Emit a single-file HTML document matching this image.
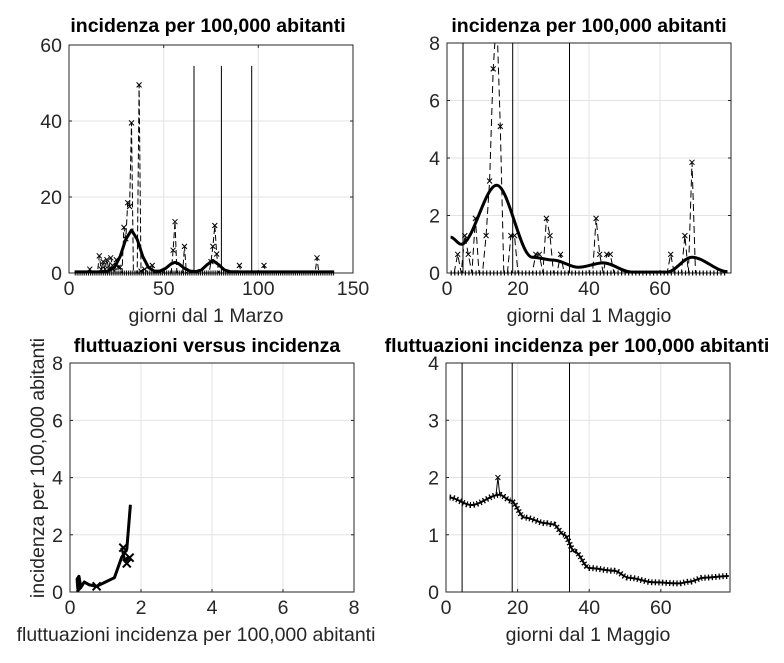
<!DOCTYPE html>
<html><head><meta charset="utf-8"><style>
body{margin:0;background:#fff;}
svg text{font-family:"Liberation Sans",sans-serif;fill:#262626;font-size:19.5px;}
.t{font-weight:bold;fill:#000;font-size:19.5px;}
</style></head><body>
<svg width="784" height="658" xmlns="http://www.w3.org/2000/svg">
<rect width="784" height="658" fill="#fff"/>
<defs>
<path id="x" d="M-2.5,-2.5L2.5,2.5M-2.5,2.5L2.5,-2.5" stroke="#000" stroke-width="1"/>
<path id="X" d="M-4,-4L4,4M-4,4L4,-4" stroke="#000" stroke-width="2"/>
</defs>

<!-- ===== Top-left ===== -->
<g stroke="#e3e3e3">
<line x1="163.7" y1="45" x2="163.7" y2="273"/><line x1="258.3" y1="45" x2="258.3" y2="273"/>
<line x1="69" y1="197" x2="353" y2="197"/><line x1="69" y1="121" x2="353" y2="121"/>
</g>
<rect x="69" y="45" width="284" height="228" fill="none" stroke="#262626"/>
<g stroke="#262626">
<line x1="163.7" y1="273" x2="163.7" y2="270"/><line x1="258.3" y1="273" x2="258.3" y2="270"/>
<line x1="163.7" y1="45" x2="163.7" y2="48"/><line x1="258.3" y1="45" x2="258.3" y2="48"/>
<line x1="69" y1="197" x2="72" y2="197"/><line x1="69" y1="121" x2="72" y2="121"/>
<line x1="353" y1="197" x2="350" y2="197"/><line x1="353" y1="121" x2="350" y2="121"/>
</g>
<text x="69" y="295" text-anchor="middle">0</text><text x="163.7" y="295" text-anchor="middle">50</text><text x="258.3" y="295" text-anchor="middle">100</text><text x="353" y="295" text-anchor="middle">150</text>
<text x="62" y="280" text-anchor="end">0</text><text x="62" y="204" text-anchor="end">20</text><text x="62" y="128" text-anchor="end">40</text><text x="62" y="52" text-anchor="end">60</text>
<line x1="74.7" y1="273" x2="334.1" y2="273" stroke="#000" stroke-width="5" stroke-dasharray="1,0.9"/>
<polyline fill="none" stroke="#000" stroke-width="1" stroke-dasharray="6,3" points="87.9,273 89.8,269.2 91.7,273 97.4,273 99.3,255.9 101.2,269.2 103.1,261.6 105,269.2 106.9,259.7 108.8,269.2 110.7,257.8 112.5,265.4 114.4,273 116.3,259.7 118.2,267.3 120.1,267.3 122,273 123.9,227.4 125.8,238.8 127.7,202.7 129.6,206.5 131.5,122.9 133.4,273 137.2,273 139.1,84.9 141,271.1 144.7,269.2 152.3,265.4 154.2,273 171.2,273 173.1,250.2 175,221.7 176.9,273 182.6,273 184.5,246.4 186.4,273 209.1,273 211,261.6 212.9,246.4 214.8,225.5 216.7,254 218.6,273 237.5,273 239.4,265.4 241.3,273 262.1,273 264,265.4 265.9,273 315.1,273 317,257.8 318.9,273"/>
<g>
<use href="#x" x="89.8" y="269.2"/><use href="#x" x="99.3" y="255.9"/><use href="#x" x="101.2" y="269.2"/><use href="#x" x="103.1" y="261.6"/><use href="#x" x="105" y="269.2"/><use href="#x" x="106.9" y="259.7"/><use href="#x" x="108.8" y="269.2"/><use href="#x" x="110.7" y="257.8"/><use href="#x" x="112.5" y="265.4"/><use href="#x" x="116.3" y="259.7"/><use href="#x" x="118.2" y="267.3"/><use href="#x" x="120.1" y="267.3"/><use href="#x" x="123.9" y="227.4"/><use href="#x" x="125.8" y="238.8"/><use href="#x" x="127.7" y="202.7"/><use href="#x" x="129.6" y="206.5"/><use href="#x" x="131.5" y="122.9"/><use href="#x" x="139.1" y="84.9"/><use href="#x" x="141" y="271.1"/><use href="#x" x="144.7" y="269.2"/><use href="#x" x="152.3" y="265.4"/><use href="#x" x="173.1" y="250.2"/><use href="#x" x="175" y="221.7"/><use href="#x" x="184.5" y="246.4"/><use href="#x" x="211" y="261.6"/><use href="#x" x="212.9" y="246.4"/><use href="#x" x="214.8" y="225.5"/><use href="#x" x="216.7" y="254"/><use href="#x" x="239.4" y="265.4"/><use href="#x" x="264" y="265.4"/><use href="#x" x="317" y="257.8"/>
</g>
<g stroke="#000" stroke-width="1">
<line x1="194" y1="65.9" x2="194" y2="273"/><line x1="221.4" y1="65.9" x2="221.4" y2="273"/><line x1="251.7" y1="65.9" x2="251.7" y2="273"/>
</g>
<polyline fill="none" stroke="#000" stroke-width="3" stroke-linejoin="round" points="74.7,271.9 97.4,271.9 106.9,271.5 114.4,267.5 120.1,256.5 125.8,239.3 131.5,230.1 137.2,239.3 142.8,256.5 148.5,267.5 154.2,271 159.9,271.1 165.6,268.4 171.2,263.8 175,262.4 178.8,263.8 184.5,268.4 190.2,271.1 195.9,271.6 201.5,269.9 207.2,264.6 212.9,260.5 218.6,264.6 224.3,269.9 229.9,271.6 239.4,271.9 334.1,271.9"/>
<text class="t" x="208" y="32" text-anchor="middle">incidenza per 100,000 abitanti</text>
<text x="206" y="322" text-anchor="middle">giorni dal 1 Marzo</text>

<!-- ===== Top-right ===== -->
<g stroke="#e3e3e3">
<line x1="518" y1="43" x2="518" y2="273"/><line x1="589" y1="43" x2="589" y2="273"/><line x1="660" y1="43" x2="660" y2="273"/>
<line x1="447" y1="215.5" x2="731" y2="215.5"/><line x1="447" y1="158" x2="731" y2="158"/><line x1="447" y1="100.5" x2="731" y2="100.5"/>
</g>
<rect x="447" y="43" width="284" height="230" fill="none" stroke="#262626"/>
<g stroke="#262626">
<line x1="518" y1="273" x2="518" y2="270"/><line x1="589" y1="273" x2="589" y2="270"/><line x1="660" y1="273" x2="660" y2="270"/>
<line x1="447" y1="215.5" x2="450" y2="215.5"/><line x1="447" y1="158" x2="450" y2="158"/><line x1="447" y1="100.5" x2="450" y2="100.5"/>
<line x1="731" y1="215.5" x2="728" y2="215.5"/><line x1="731" y1="158" x2="728" y2="158"/><line x1="731" y1="100.5" x2="728" y2="100.5"/>
</g>
<text x="447" y="295" text-anchor="middle">0</text><text x="518" y="295" text-anchor="middle">20</text><text x="589" y="295" text-anchor="middle">40</text><text x="660" y="295" text-anchor="middle">60</text>
<text x="440" y="280" text-anchor="end">0</text><text x="440" y="222.5" text-anchor="end">2</text><text x="440" y="165" text-anchor="end">4</text><text x="440" y="107.5" text-anchor="end">6</text><text x="440" y="50" text-anchor="end">8</text>
<line x1="450.6" y1="273" x2="727.5" y2="273" stroke="#000" stroke-width="5" stroke-dasharray="1.2,2.35"/>
<clipPath id="c2"><rect x="447" y="43" width="284" height="230"/></clipPath>
<polyline clip-path="url(#c2)" fill="none" stroke="#000" stroke-width="1" stroke-dasharray="7,4" points="454.1,273 457.7,254.3 461.2,273 464.8,235.6 468.3,254.3 471.9,273 475.4,218.4 479,273 482.5,273 486.1,235.6 489.6,181 493.2,68.9 496.7,14.3 500.3,126.4 503.8,273 507.4,273 510.9,235.6 514.5,235.6 518,273 532.2,273 535.8,254.3 539.3,254.3 542.9,273 546.4,218.4 550,235.6 553.5,273 557.1,273 560.6,254.3 564.2,273 592.6,273 596.1,218.4 599.7,254.3 603.2,273 606.8,254.3 610.3,254.3 613.9,273 667.1,273 670.7,254.3 674.2,273 681.3,273 684.9,235.6 688.4,273 692,162.3 695.5,273"/>
<g>
<use href="#x" x="457.7" y="254.3"/><use href="#x" x="464.8" y="235.6"/><use href="#x" x="468.3" y="254.3"/><use href="#x" x="475.4" y="218.4"/><use href="#x" x="486.1" y="235.6"/><use href="#x" x="489.6" y="181"/><use href="#x" x="493.2" y="68.9"/><use href="#x" x="500.3" y="126.4"/><use href="#x" x="510.9" y="235.6"/><use href="#x" x="514.5" y="235.6"/><use href="#x" x="535.8" y="254.3"/><use href="#x" x="539.3" y="254.3"/><use href="#x" x="546.4" y="218.4"/><use href="#x" x="550" y="235.6"/><use href="#x" x="560.6" y="254.3"/><use href="#x" x="596.1" y="218.4"/><use href="#x" x="599.7" y="254.3"/><use href="#x" x="606.8" y="254.3"/><use href="#x" x="610.3" y="254.3"/><use href="#x" x="670.7" y="254.3"/><use href="#x" x="684.9" y="235.6"/><use href="#x" x="692" y="162.3"/>
</g>
<g stroke="#000" stroke-width="1">
<line x1="463" y1="43" x2="463" y2="273"/><line x1="512.7" y1="43" x2="512.7" y2="273"/><line x1="569.5" y1="43" x2="569.5" y2="273"/>
</g>
<path fill="none" stroke="#000" stroke-width="3" d="M450.6,237.1 C454.1,237.1 457.7,244.3 461.2,244.3 C473,244.3 484.9,185.3 496.7,185.3 C508.5,185.3 520.4,257.2 532.2,257.2 C539.3,257.2 546.4,260.1 553.5,260.1 C561.8,260.1 570.1,267.3 578.4,267.3 C586.7,267.3 594.9,262.9 603.2,262.9 C612.7,262.9 622.1,272.1 631.6,272.1 L667.1,272.1 C675.4,272.1 683.7,257.2 692,257.2 C703.8,257.2 715.7,271.6 727.5,271.6"/>
<text class="t" x="589" y="32" text-anchor="middle">incidenza per 100,000 abitanti</text>
<text x="589" y="322" text-anchor="middle">giorni dal 1 Maggio</text>

<!-- ===== Bottom-left ===== -->
<g stroke="#e3e3e3">
<line x1="141" y1="363" x2="141" y2="592"/><line x1="212" y1="363" x2="212" y2="592"/><line x1="283" y1="363" x2="283" y2="592"/>
<line x1="70" y1="534.8" x2="354" y2="534.8"/><line x1="70" y1="477.6" x2="354" y2="477.6"/><line x1="70" y1="420.4" x2="354" y2="420.4"/>
</g>
<rect x="70" y="363" width="284" height="229" fill="none" stroke="#262626"/>
<g stroke="#262626">
<line x1="141" y1="592" x2="141" y2="589"/><line x1="212" y1="592" x2="212" y2="589"/><line x1="283" y1="592" x2="283" y2="589"/>
<line x1="70" y1="534.8" x2="73" y2="534.8"/><line x1="70" y1="477.6" x2="73" y2="477.6"/><line x1="70" y1="420.4" x2="73" y2="420.4"/>
<line x1="354" y1="534.8" x2="351" y2="534.8"/><line x1="354" y1="477.6" x2="351" y2="477.6"/><line x1="354" y1="420.4" x2="351" y2="420.4"/>
</g>
<text x="70" y="614" text-anchor="middle">0</text><text x="141" y="614" text-anchor="middle">2</text><text x="212" y="614" text-anchor="middle">4</text><text x="283" y="614" text-anchor="middle">6</text><text x="354" y="614" text-anchor="middle">8</text>
<text x="63" y="599" text-anchor="end">0</text><text x="63" y="541.8" text-anchor="end">2</text><text x="63" y="484.6" text-anchor="end">4</text><text x="63" y="427.4" text-anchor="end">6</text><text x="63" y="370.2" text-anchor="end">8</text>
<polyline fill="none" stroke="#000" stroke-width="3" stroke-linejoin="round" points="77.8,589.1 77.1,579.1 78.9,576.3 80.7,586.3 77.8,590.6 80.7,587.7 84.2,582 89.5,584.9 96.6,586.3 105.5,582 114.4,577.7 121.5,557.7 126.8,549.1 130.4,504.8"/>
<polyline fill="none" stroke="#000" stroke-width="2.5" points="121.5,547.7 125,560.5 128.6,556.3"/>
<use href="#X" x="96.6" y="586.3"/><use href="#X" x="123.3" y="547.7"/><use href="#X" x="126.8" y="563.4"/><use href="#X" x="129.6" y="557.7"/>
<text class="t" x="207" y="352" text-anchor="middle">fluttuazioni versus incidenza</text>
<text x="196" y="641" text-anchor="middle">fluttuazioni incidenza per 100,000 abitanti</text>
<text transform="translate(44,468) rotate(-90)" text-anchor="middle">incidenza per 100,000 abitanti</text>

<!-- ===== Bottom-right ===== -->
<g stroke="#e3e3e3">
<line x1="517.6" y1="363" x2="517.6" y2="592"/><line x1="589.2" y1="363" x2="589.2" y2="592"/><line x1="660.8" y1="363" x2="660.8" y2="592"/>
<line x1="446" y1="534.75" x2="730" y2="534.75"/><line x1="446" y1="477.5" x2="730" y2="477.5"/><line x1="446" y1="420.25" x2="730" y2="420.25"/>
</g>
<rect x="446" y="363" width="284" height="229" fill="none" stroke="#262626"/>
<g stroke="#262626">
<line x1="517.6" y1="592" x2="517.6" y2="589"/><line x1="589.2" y1="592" x2="589.2" y2="589"/><line x1="660.8" y1="592" x2="660.8" y2="589"/>
<line x1="446" y1="534.75" x2="449" y2="534.75"/><line x1="446" y1="477.5" x2="449" y2="477.5"/><line x1="446" y1="420.25" x2="449" y2="420.25"/>
<line x1="730" y1="534.75" x2="727" y2="534.75"/><line x1="730" y1="477.5" x2="727" y2="477.5"/><line x1="730" y1="420.25" x2="727" y2="420.25"/>
</g>
<text x="446" y="614" text-anchor="middle">0</text><text x="517.6" y="614" text-anchor="middle">20</text><text x="589.2" y="614" text-anchor="middle">40</text><text x="660.8" y="614" text-anchor="middle">60</text>
<text x="439" y="599" text-anchor="end">0</text><text x="439" y="541.75" text-anchor="end">1</text><text x="439" y="484.5" text-anchor="end">2</text><text x="439" y="427.25" text-anchor="end">3</text><text x="439" y="370" text-anchor="end">4</text>
<g stroke="#000" stroke-width="1">
<line x1="462.1" y1="363" x2="462.1" y2="592"/><line x1="512.2" y1="363" x2="512.2" y2="592"/><line x1="569.5" y1="363" x2="569.5" y2="592"/>
</g>
<path fill="none" stroke="#000" stroke-width="2" d="M449.6,497.5 C456.8,497.5 463.9,505 471.1,505 C480.6,505 490.2,494.7 499.7,494.7 C503.3,494.7 506.8,500.4 510.4,500.4 C515.2,500.4 520,517.6 524.8,517.6 C531.9,517.6 539.1,523.3 546.2,523.3 C548.6,523.3 551,524.4 553.4,524.4 C557,524.4 560.5,534.75 564.1,534.75 C567.7,534.75 571.3,551.9 574.9,551.9 C579.7,551.9 584.4,568 589.2,568 C597.6,568 605.9,570.8 614.3,570.8 C619.1,570.8 623.8,577.7 628.6,577.7 C636.9,577.7 645.3,582.3 653.6,582.3 C662,582.3 670.3,583.4 678.7,583.4 C682.3,583.4 685.8,581.7 689.4,581.7 C694.2,581.7 699,577.7 703.8,577.7 C712.1,577.7 720.5,576 728.8,576"/>
<path fill="none" stroke="#000" stroke-width="6" stroke-dasharray="1.3,2.3" d="M449.6,497.5 C456.8,497.5 463.9,505 471.1,505 C480.6,505 490.2,494.7 499.7,494.7 C503.3,494.7 506.8,500.4 510.4,500.4 C515.2,500.4 520,517.6 524.8,517.6 C531.9,517.6 539.1,523.3 546.2,523.3 C548.6,523.3 551,524.4 553.4,524.4 C557,524.4 560.5,534.75 564.1,534.75 C567.7,534.75 571.3,551.9 574.9,551.9 C579.7,551.9 584.4,568 589.2,568 C597.6,568 605.9,570.8 614.3,570.8 C619.1,570.8 623.8,577.7 628.6,577.7 C636.9,577.7 645.3,582.3 653.6,582.3 C662,582.3 670.3,583.4 678.7,583.4 C682.3,583.4 685.8,581.7 689.4,581.7 C694.2,581.7 699,577.7 703.8,577.7 C712.1,577.7 720.5,576 728.8,576"/>
<polyline fill="none" stroke="#000" stroke-width="1" points="496,495 497.9,477.5 499.7,494.7"/>
<use href="#x" x="497.9" y="477.5"/>
<text class="t" x="577" y="352" text-anchor="middle">fluttuazioni incidenza per 100,000 abitanti</text>
<text x="588" y="641" text-anchor="middle">giorni dal 1 Maggio</text>
</svg>
</body></html>
